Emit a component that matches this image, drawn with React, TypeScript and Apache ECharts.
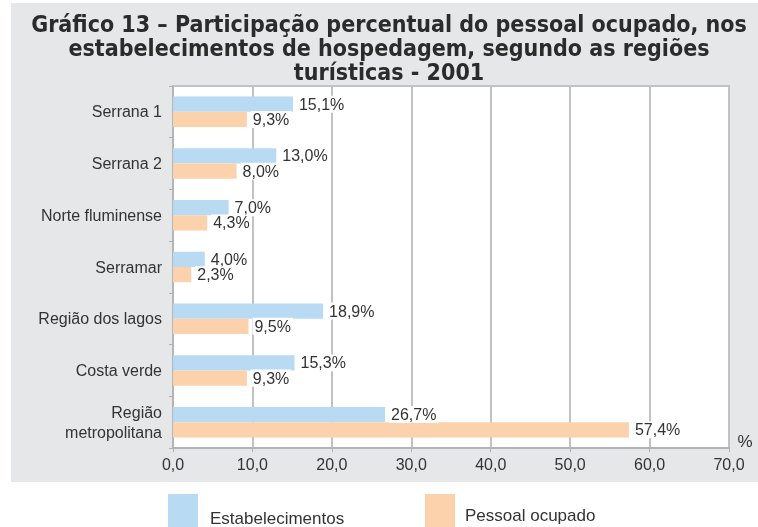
import React, { useEffect, useRef } from "react";
import * as echarts from "echarts";

const categories = [
  "Serrana 1",
  "Serrana 2",
  "Norte fluminense",
  "Serramar",
  "Região dos lagos",
  "Costa verde",
  "Região\nmetropolitana",
];
const estabelecimentos = [15.1, 13.0, 7.0, 4.0, 18.9, 15.3, 26.7];
const pessoalOcupado = [9.3, 8.0, 4.3, 2.3, 9.5, 9.3, 57.4];
const seriesNames = ["Estabelecimentos", "Pessoal ocupado"];
const titleText =
  "Gráfico 13 – Participação percentual do pessoal ocupado, nos\nestabelecimentos de hospedagem, segundo as regiões\nturísticas - 2001";

const FONT = "'Liberation Sans', Arial, Helvetica, sans-serif";
const fmt = (v: number) => v.toFixed(1).replace(".", ",");

export default function App() {
  const ref = useRef<HTMLDivElement>(null);
  useEffect(() => {
    if (!ref.current) return;
    const chart = echarts.init(ref.current, undefined, { renderer: "svg" });
    const labelCfg = {
      show: true,
      position: "right",
      distance: 4,
      color: "#333",
      fontFamily: FONT,
      fontSize: 16,
      backgroundColor: "#fff",
      padding: [1, 2, 0, 2],
      formatter: (p: any) => fmt(p.value) + "%",
    };
    const legendText = { fontFamily: FONT, fontSize: 17, color: "#333" };
    chart.setOption({
      animation: false,
      graphic: [
        {
          type: "rect",
          z: -10,
          silent: true,
          shape: { x: 11, y: 3, width: 747, height: 479 },
          style: { fill: "#e6e7e9" },
        },
        {
          type: "text",
          x: 389,
          y: 12,
          style: {
            text: titleText,
            align: "center",
            verticalAlign: "top",
            fontFamily: "'DejaVu Sans Condensed', 'Liberation Sans Narrow', Arial, sans-serif",
            fontWeight: "bold",
            fontSize: 23,
            lineHeight: 24,
            fill: "#2b2b2b",
          },
        },
        {
          type: "text",
          x: 745,
          y: 441,
          style: {
            text: "%",
            align: "center",
            verticalAlign: "middle",
            fontFamily: FONT,
            fontSize: 17,
            fill: "#333",
          },
        },
      ],
      grid: {
        left: 173,
        right: 29,
        top: 86,
        bottom: 79,
        show: true,
        backgroundColor: "#fff",
        borderColor: "#c2c2c2",
        borderWidth: 2,
      },
      legend: [
        {
          data: [seriesNames[0]],
          left: 168,
          top: 494,
          padding: 0,
          itemWidth: 37,
          itemHeight: 48,
          icon: "path://M0,0H30V34H0Z M37,48",
          textStyle: legendText,
        },
        {
          data: [seriesNames[1]],
          left: 425,
          top: 494,
          padding: 0,
          itemWidth: 35,
          itemHeight: 42,
          icon: "path://M0,0H30V34H0Z M35,42",
          textStyle: legendText,
        },
      ],
      xAxis: {
        type: "value",
        min: 0,
        max: 70,
        interval: 10,
        axisLine: { show: true, lineStyle: { color: "#b0b0b0", width: 1.5 } },
        axisTick: { show: true, length: 4, lineStyle: { color: "#b0b0b0" } },
        splitLine: { show: true, lineStyle: { color: "#c2c2c2", width: 2 } },
        axisLabel: {
          formatter: (v: number) => fmt(v),
          color: "#333",
          fontFamily: FONT,
          fontSize: 16,
          margin: 8,
        },
      },
      yAxis: {
        type: "category",
        inverse: true,
        data: categories,
        axisLine: { show: true, lineStyle: { color: "#b0b0b0", width: 1.5 } },
        axisTick: { show: true, length: 4, lineStyle: { color: "#b0b0b0" } },
        axisLabel: {
          color: "#333",
          fontFamily: FONT,
          fontSize: 16,
          lineHeight: 20,
          margin: 11,
          align: "right",
        },
      },
      series: [
        {
          name: seriesNames[0],
          type: "bar",
          data: estabelecimentos,
          barGap: "0%",
          barCategoryGap: "41%",
          itemStyle: { color: "#b8daf2" },
          label: labelCfg,
        },
        {
          name: seriesNames[1],
          type: "bar",
          data: pessoalOcupado,
          itemStyle: { color: "#fcd2ac" },
          label: labelCfg,
        },
      ],
    });
    return () => chart.dispose();
  }, []);
  return (
    <div
      ref={ref}
      style={{ position: "fixed", left: 0, top: 0, width: 758, height: 527 }}
    />
  );
}
